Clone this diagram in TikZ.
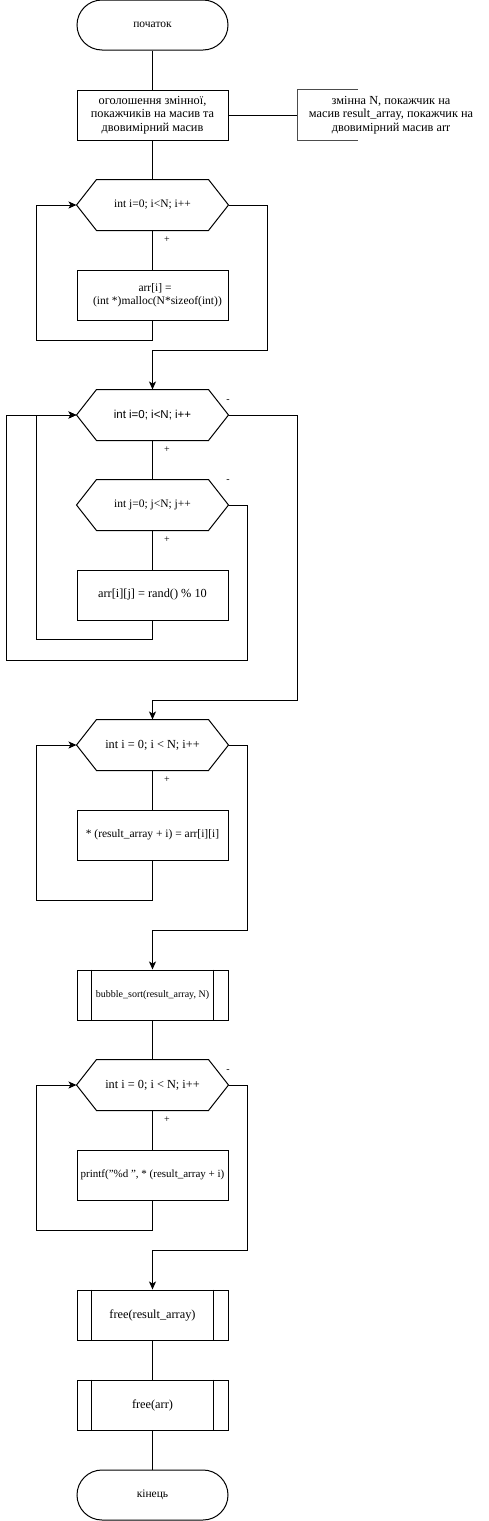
\documentclass[tikz,border=0pt]{standalone}
\usepackage{fontspec}
\setmainfont{Liberation Serif}
\newfontfamily\arialf{Liberation Sans}
\usetikzlibrary{arrows.meta,calc}
\tikzset{
  every node/.style={font=\fontsize{11.5}{13.5}\selectfont},
  base/.style={minimum width=151pt, minimum height=50pt, inner sep=2pt, align=center, line width=1pt},
  boxn/.style={base, draw, rectangle},
  term/.style={base, draw, rectangle, rounded corners=25pt},
  hexn/.style={base, rectangle},
  subn/.style={base, draw, rectangle},
  conn/.style={line width=1pt},
  arr/.style={conn, -{Stealth[length=8pt,width=7pt,inset=2pt]}},
  lbl/.style={font=\fontsize{10}{12}\selectfont, inner sep=0pt},
  big/.style={font=\fontsize{12.3}{13.5}\selectfont}
}
\newcommand{\hexdraw}[1]{\draw[line width=1pt] (#1.west) -- ($(#1.north west)+(20pt,0)$) -- ($(#1.north east)+(-20pt,0)$) -- (#1.east) -- ($(#1.south east)+(-20pt,0)$) -- ($(#1.south west)+(20pt,0)$) -- cycle;}
\newcommand{\subdraw}[1]{\draw[line width=1pt] ($(#1.north west)+(15pt,0)$) -- ($(#1.south west)+(15pt,0)$) ($(#1.north east)+(-15pt,0)$) -- ($(#1.south east)+(-15pt,0)$);}
\begin{document}
\begin{tikzpicture}[x=1pt,y=-1pt]
\useasboundingbox (0,0) rectangle (488,1521);
% nodes
\node[term] (start) at (152.5,25) {початок};
\node[boxn, big] (b0) at (152.5,115) {оголошення змінної,\\покажчиків на масив та\\двовимірний масив};
\coordinate (ann) at (297,115);
\node[align=center, inner sep=0pt, big] (anntext) at (391,115) {змінна N, покажчик на\\масив result\_array, покажчик на\\двовимірний масив arr};
\draw[line width=1pt, black!70] (358,89.5) -- (297,89.5) -- (297,140.5) -- (358,140.5);

\node[hexn] (h1) at (152.5,205) {int i=0; i<N; i++};
\node[boxn] (b1) at (152.5,295) {\hspace*{5pt}arr[i] =\\\hspace*{10pt}(int *)malloc(N*sizeof(int))};

\node[hexn, font=\arialf\fontsize{11.5}{12}\selectfont] (h2) at (152.5,415) {int i=0; i<N; i++};
\node[hexn] (h3) at (152.5,505) {int j=0; j<N; j++};
\node[boxn, big] (b2) at (152.5,595) {arr[i][j] = rand() \% 10};

\node[hexn, big] (h4) at (152.5,745) {int i = 0; i < N; i++};
\node[boxn] (b3) at (152.5,835) {* (result\_array + i) = arr[i][i]};

\node[subn, font=\fontsize{10}{12}\selectfont] (bs) at (152.5,995) {bubble\_sort(result\_array, N)};

\node[hexn, big] (h5) at (152.5,1085) {int i = 0; i < N; i++};
\node[boxn, font=\fontsize{11}{13}\selectfont] (b4) at (152.5,1175) {printf("\%d ", * (result\_array + i)};

\node[subn, big] (f1) at (152.5,1315) {free(result\_array)};
\node[subn, big] (f2) at (152.5,1405) {free(arr)};
\node[term] (end) at (152.5,1495) {кінець};

\hexdraw{h1}\hexdraw{h2}\hexdraw{h3}\hexdraw{h4}\hexdraw{h5}
\subdraw{bs}\subdraw{f1}\subdraw{f2}

% labels
\node[lbl] (p1) at (167,240) {+};
\node[lbl] (m2) at (228,401) {-};
\node[lbl] (p2) at (167,450) {+};
\node[lbl] (m3) at (228,481) {-};
\node[lbl] (p3) at (167,540) {+};
\node[lbl] (p4) at (167,780) {+};
\node[lbl] (m5) at (228,1071) {-};
\node[lbl] (p5) at (167,1120) {+};

% connectors
\draw[conn] (start.south) -- (b0.north);
\draw[conn] (b0.east) -- (ann);
\draw[conn] (b0.south) -- (h1.north);
\draw[conn] (h1.south) -- (b1.north);
\draw[arr] (b1.south) -- ++(0,20) -| ($(h1.west)+(-40,0)$) -- (h1.west);
\draw[arr] (h1.east) -| ($(h1.east)+(39,145)$) -| (h2.north);

\draw[conn] (h2.south) -- (h3.north);
\draw[conn] (h3.south) -- (b2.north);
\draw[arr] (b2.south) -- ++(0,19) -| ($(h2.west)+(-40,0)$) -- (h2.west);
\draw[arr] (h3.east) -| ($(h3.east)+(19,155)$) -| ($(h2.west)+(-70,0)$) -- (h2.west);
\draw[arr] (h2.east) -| ($(h2.east)+(69,285)$) -| (h4.north);

\draw[conn] (h4.south) -- (b3.north);
\draw[arr] (b3.south) -- ++(0,40) -| ($(h4.west)+(-40,0)$) -- (h4.west);
\draw[arr] (h4.east) -| ($(h4.east)+(19,185)$) -| (bs.north);

\draw[conn] (bs.south) -- (h5.north);
\draw[conn] (h5.south) -- (b4.north);
\draw[arr] (b4.south) -- ++(0,30) -| ($(h5.west)+(-40,0)$) -- (h5.west);
\draw[arr] (h5.east) -| ($(h5.east)+(19,165)$) -| (f1.north);

\draw[conn] (f1.south) -- (f2.north);
\draw[conn] (f2.south) -- (end.north);
\end{tikzpicture}
\end{document}
